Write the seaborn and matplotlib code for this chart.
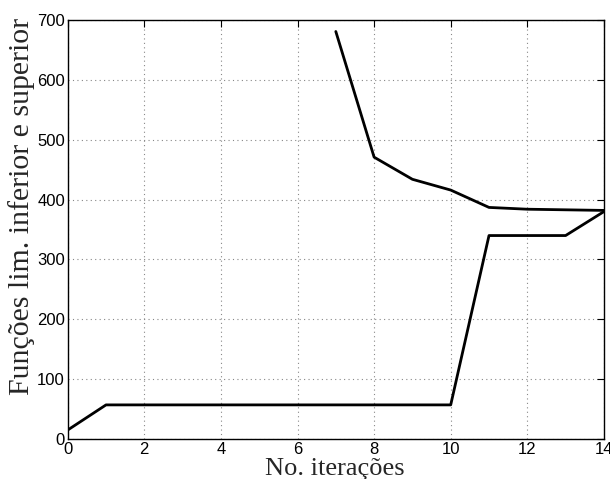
import matplotlib
matplotlib.use("Agg")
import matplotlib.pyplot as plt
import seaborn as sns
import pandas as pd

iter_lower = list(range(0, 15))
lower = [15, 57, 57, 57, 57, 57, 57, 57, 57, 57, 57, 340, 340, 340, 380]
iter_upper = list(range(7, 15))
upper = [681, 471, 434, 416, 387, 384, 383, 382]

xticks = [0, 2, 4, 6, 8, 10, 12, 14]
yticks = [0, 100, 200, 300, 400, 500, 600, 700]

sns.set_style("white")
plt.rcParams['font.family'] = ['Liberation Sans', 'DejaVu Sans']

fig = plt.figure(figsize=(6.1, 4.79), dpi=100)
ax = fig.add_axes([0.111, 0.0835, 0.879, 0.8745])

df_l = pd.DataFrame({"x": iter_lower, "y": lower})
df_u = pd.DataFrame({"x": iter_upper, "y": upper})
sns.lineplot(data=df_l, x="x", y="y", ax=ax, color="black", lw=2)
sns.lineplot(data=df_u, x="x", y="y", ax=ax, color="black", lw=2)

ax.set_xlim(0, 14)
ax.set_ylim(0, 700)
ax.set_xticks(xticks)
ax.set_yticks(yticks)
ax.tick_params(direction="in", top=True, right=True, labelsize=12, length=5, width=0.8, colors="black", pad=2)
for s in ax.spines.values():
    s.set_visible(True)
    s.set_color("black")
    s.set_linewidth(1.0)
ax.grid(True, linestyle=(0, (1, 3)), color="#888888", linewidth=0.8)
ax.set_xlabel("No. iterações", family=["Liberation Serif", "DejaVu Serif"], fontsize=19)
ax.set_ylabel("Funções lim. inferior e superior", family=["Liberation Serif", "DejaVu Serif"], fontsize=21.5)
ax.xaxis.set_label_coords(0.498, -0.086)
ax.xaxis.label.set_va("baseline")
ax.yaxis.set_label_coords(-0.086, 0.556)
ax.yaxis.label.set_va("center")

fig.savefig("out.png", dpi=100)
